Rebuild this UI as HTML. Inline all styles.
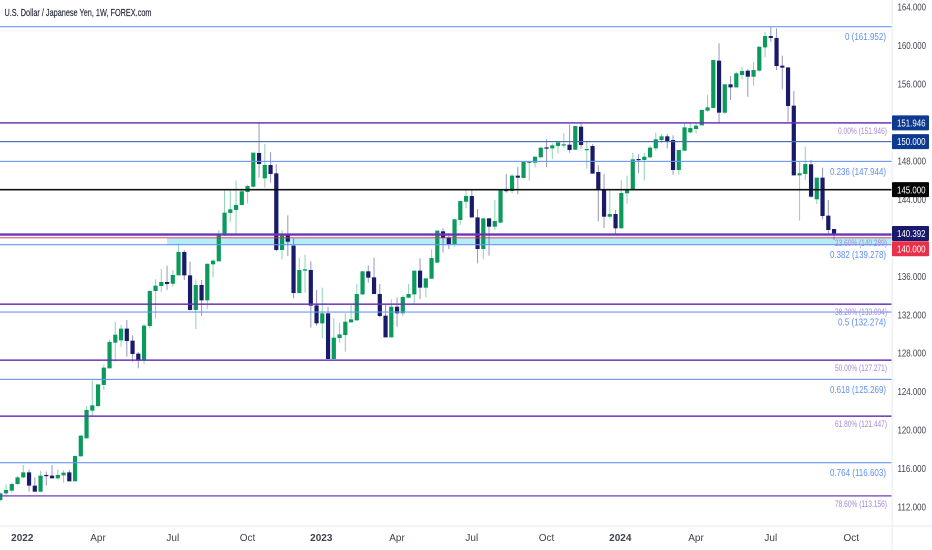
<!DOCTYPE html>
<html lang="en">
<head>
<meta charset="utf-8">
<title>USD/JPY weekly chart</title>
<style>
html,body{margin:0;padding:0;background:#fff;width:932px;height:550px;overflow:hidden}
svg{display:block;font-family:"Liberation Sans",sans-serif}
</style>
</head>
<body>
<svg id="chart" xmlns="http://www.w3.org/2000/svg" width="932" height="550" viewBox="0 0 932 550">
  <rect x="0" y="0" width="932" height="550" fill="#ffffff"/>
  <g id="zone"></g>
  <g id="candles"></g>
  <g id="levels"></g>
  <rect x="0" y="525.5" width="932" height="1" fill="#e6e8ef"/>
  <rect x="891.5" y="0" width="1.5" height="550" fill="#eef0f6"/>
  <g id="yticks"></g>
  <g id="xticks"></g>
  <g id="badges"></g>
  <text x="4.5" y="16" font-size="10.5" fill="#1d2230" stroke="#1d2230" stroke-width="0.15" textLength="147" lengthAdjust="spacingAndGlyphs">U.S. Dollar / Japanese Yen, 1W, FOREX.com</text>
</svg>
<script>
var open = [
112.72,113.42,113.70,114.39,115.08,115.60,114.22,113.59,115.33,115.26,
114.98,115.29,115.60,114.67,117.27,119.14,122.02,122.50,124.69,126.42,
129.09,129.33,130.55,129.30,127.95,127.22,130.82,134.46,134.98,135.40,
135.22,136.09,138.52,136.09,132.49,135.09,133.49,137.24,137.55,140.25,
142.58,142.89,143.41,144.76,145.31,148.82,146.18,147.57,146.70,138.73,
140.39,139.18,134.25,136.58,136.65,132.97,131.10,132.14,127.39,129.57,
129.88,131.20,131.41,134.11,136.51,135.88,134.15,131.90,129.64,132.83,
132.14,133.77,134.11,136.58,134.81,135.74,137.41,140.67,140.04,139.35,
141.85,143.75,144.34,142.12,138.83,142.02,141.15,141.57,144.97,144.86,
146.46,146.22,147.81,147.81,148.37,149.40,149.30,149.54,149.61,149.68,
149.16,151.55,149.16,149.54,146.84,144.97,142.19,142.47,140.98,144.62,
144.93,148.19,148.09,148.37,149.30,150.17,150.55,150.17,147.05,149.06,
150.96,151.31,151.69,153.22,153.50,158.42,153.01,155.96,155.64,156.93,
157.38,156.75,157.38,159.80,160.98,160.78,157.90,157.72,153.74,146.49,
146.63,147.64,144.00,146.25,142.30,140.91];
var close = [
113.42,113.77,114.39,115.08,115.60,114.22,113.59,115.26,115.22,114.98,
115.33,115.57,114.67,117.30,119.42,122.09,122.57,124.75,126.49,129.16,
129.92,130.55,129.26,127.91,127.22,130.86,134.46,135.02,135.40,135.19,
136.13,138.52,136.09,132.49,135.09,133.49,137.30,137.62,140.29,142.61,
142.96,143.41,144.83,145.38,148.85,147.67,147.57,146.63,138.73,140.39,
139.59,134.25,136.65,136.72,132.94,131.10,132.14,127.39,129.61,129.95,
131.27,131.51,134.15,136.51,135.85,134.15,131.86,129.64,132.83,132.14,
133.84,134.15,136.58,134.81,135.78,137.89,140.74,139.97,139.35,141.92,
143.82,144.34,142.12,138.83,142.02,141.15,141.74,144.97,144.86,146.46,
146.25,147.88,147.91,148.43,149.37,149.27,149.61,149.92,149.72,149.13,
151.62,149.65,149.23,146.67,144.93,142.19,142.47,140.98,144.66,145.00,
148.16,148.09,148.43,149.37,150.24,150.55,150.06,147.05,149.13,151.48,
151.41,151.66,153.29,153.56,158.49,153.01,155.96,155.64,157.10,157.34,
156.75,157.45,159.87,160.98,160.78,157.86,157.69,153.70,146.49,146.70,
147.67,144.27,146.25,142.26,140.81,140.39];
var high = [
113.50,114.35,114.53,115.22,116.36,115.91,115.08,115.74,115.67,116.36,
115.91,115.84,115.84,117.37,119.49,122.50,125.14,124.75,126.77,129.44,
131.27,130.93,131.45,129.85,128.12,131.03,134.57,135.68,136.75,137.10,
136.61,139.42,138.73,137.51,135.68,135.61,137.30,137.75,140.81,144.97,
144.97,145.94,145.04,145.52,148.85,151.97,149.75,148.89,147.64,140.81,
142.33,139.94,137.93,138.24,137.55,134.57,134.81,132.83,131.62,131.17,
132.14,133.01,135.19,136.51,137.13,137.93,135.19,133.11,133.60,133.77,
134.01,135.19,136.58,137.86,135.78,138.80,140.74,140.98,140.46,141.92,
143.82,144.97,144.97,142.99,142.02,142.02,143.93,145.04,146.63,146.63,
147.39,147.91,147.91,148.43,149.47,150.24,149.82,149.92,150.86,151.76,
151.62,151.97,149.96,149.72,147.53,146.63,144.97,142.89,146.00,146.46,
148.85,148.71,148.85,149.61,150.93,150.79,150.79,150.65,149.13,151.90,
151.90,151.90,153.36,154.85,158.49,160.22,155.96,156.82,157.27,157.79,
157.52,158.31,159.87,161.40,161.95,161.78,158.94,157.72,155.26,147.91,
149.47,148.09,146.25,147.29,143.93,140.91];
var low = [
112.60,113.25,113.49,114.29,114.98,113.59,113.59,113.59,114.22,114.98,
114.87,114.53,114.63,114.67,117.23,119.14,121.39,122.36,124.17,126.42,
127.11,128.67,127.63,127.11,126.42,126.87,130.58,131.58,134.36,134.57,
134.91,136.09,135.61,132.42,130.51,131.86,132.59,135.88,137.55,140.18,
141.67,140.39,143.41,143.58,145.24,146.25,145.21,145.73,138.59,137.75,
138.10,133.70,134.25,134.29,130.65,130.86,129.57,127.39,127.39,129.09,
128.15,131.20,131.38,134.05,135.33,134.15,131.72,129.64,129.64,130.75,
131.86,133.70,133.18,133.60,133.80,135.74,137.41,138.48,138.83,139.07,
141.33,143.06,142.05,137.34,137.79,138.14,140.81,141.57,144.69,144.62,
144.55,146.15,145.94,147.32,148.26,147.36,148.19,148.78,149.37,148.85,
149.13,149.27,147.19,146.67,141.71,141.01,141.99,140.36,140.98,143.55,
144.93,146.73,145.94,148.26,149.06,149.82,149.30,146.56,146.56,149.06,
150.86,150.86,151.69,153.11,153.50,151.90,152.87,154.33,155.61,156.48,
154.67,155.82,157.27,158.77,160.39,157.45,155.44,152.07,146.49,141.78,
146.00,144.17,143.51,141.91,140.46,139.77];
var priceTicks = [164,160,156,148,144,136,132,128,124,120,116,112];
var timeTickLabels = ["2022","Apr","Jul","Oct","2023","Apr","Jul","Oct","2024","Apr","Jul","Oct"];
var timeTickWeeks = [4,17,30,43,56,69,82,95,108,121,134,148];
var blueFibPrices = [161.952,147.944,139.278,132.274,125.269,116.603];
var blueFibRatios = ["0","0.236","0.382","0.5","0.618","0.764"];
var purpleFibPrices = [151.946,140.289,133.094,127.271,121.447,113.156];
var purpleFibRatios = ["0.00%","23.60%","38.20%","50.00%","61.80%","78.60%"];
var badgePrices = [151.946,150,145,140.392,140];
var badgeLabels = ["151.946","150.000","145.000","140.392","140.000"];
var zoneTop = 140;
var zoneBottom = 139.278;

var NS = "http://www.w3.org/2000/svg";
function yScale(p){ return 7 + (164 - p) * 9.615; }
function xScale(i){ return i * 5.75 + 0.3; }
function mk(tag, attrs, parent){
  var el = document.createElementNS(NS, tag);
  for (var k in attrs) el.setAttribute(k, attrs[k]);
  parent.appendChild(el);
  return el;
}
var GREEN = "#0a9a5c", NAVY = "#1a1a6b";

/* support zone */
var zoneG = document.getElementById("zone");
var zoneRect = mk("rect", {x:167, y:yScale(zoneTop), width:725, height:yScale(zoneBottom)-yScale(zoneTop), fill:"#aeeaf5", opacity:0.9}, zoneG);



/* candles */
var cG = document.getElementById("candles");
for (var i = 0; i < open.length; i++) {
  var up = close[i] >= open[i];
  var col = up ? GREEN : NAVY;
  var x = xScale(i);
  var g = mk("g", {}, cG);
  
  
  mk("rect", {x:x-0.55, y:yScale(high[i]), width:1.1, height:Math.max(0.5, yScale(low[i])-yScale(high[i])), fill:col, opacity:0.42}, g);
  var t = yScale(Math.max(open[i], close[i]));
  var b = yScale(Math.min(open[i], close[i]));
  mk("rect", {x:x-2.1, y:t, width:4.2, height:Math.max(1.2, b-t), fill:col}, g);
}

/* levels */
var lG = document.getElementById("levels");
function hline(p, color, w, name, op){
  var l = mk("rect", {x:0, y:yScale(p)-w/2, width:892, height:w, fill:color, opacity:op||1}, lG);
  
  
}
function label(txt, xEnd, y, color, size, len, name){
  var t = mk("text", {x:xEnd-len, y:y, fill:color, "font-size":size, textLength:len, lengthAdjust:"spacingAndGlyphs"}, lG);
  t.textContent = txt;
  
  
}
hline(150, "#4c6fb8", 1.2, "level-150-line");
hline(145, "#111111", 1.6, "level-145-line");
hline(140, "#d9364f", 1.2, "level-140-line", 0.75);
hline(140.392, "#6a3ab8", 1.3, "level-140-392-line");
blueFibPrices.forEach(function(p, idx){
  hline(p, "#6a94f2", 1.1, "fib-blue-line");
  var wide = blueFibRatios[idx].length;
  var len = wide === 1 ? 41 : (wide === 3 ? 48 : 56);
  var txt = blueFibRatios[idx] + " (" + p.toFixed(3) + ")";
  label(txt, 886, yScale(p) + 13.5, "#5b8ff0", 10.5, len, "fib-blue-label");
});
purpleFibPrices.forEach(function(p, idx){
  hline(p, "#6a35b8", 1.5, "fib-purple-line", idx === 5 ? 0.8 : 1);
  var pct = purpleFibRatios[idx];
  var len = pct.length === 5 ? 49 : 52;
  label(pct + " (" + p.toFixed(3) + ")", 887, yScale(p) + 11, "#a488d8", 8.8, len, "fib-purple-label");
});

/* price axis */
var yG = document.getElementById("yticks");
priceTicks.forEach(function(p){
  var t = mk("text", {x:897.5, y:yScale(p)+3.6, fill:"#3f4250", "font-size":10, textLength:28.5, lengthAdjust:"spacingAndGlyphs"}, yG);
  t.textContent = p.toFixed(3);
  
  
});

/* time axis */
var xG = document.getElementById("xticks");
timeTickLabels.forEach(function(s, idx){
  var isYear = s.length === 4;
  var t = mk("text", {x:xScale(timeTickWeeks[idx]) - (isYear ? 1 : 0), y:541, fill:"#3f4250", "font-size":10, "text-anchor":"middle", "font-weight":isYear?"bold":"normal"}, xG);
  t.textContent = s;
  
  
});

/* badges */
var badgeColors = ["#0d3a8e","#0d3a8e","#050505","#1a1a6b","#e8304a"];
var badgeOffsets = [0,0,0,0,11];
var bG = document.getElementById("badges");
badgePrices.forEach(function(p, idx){
  var cy = yScale(p) + badgeOffsets[idx];
  if (idx === 3) cy = yScale(p) - 0.5;
  var r = mk("rect", {x:892, y:cy-7.5, width:37, height:15, rx:1, fill:badgeColors[idx]}, bG);
  
  
  var t = mk("text", {x:897, y:cy+3.6, fill:"#ffffff", "font-size":10, textLength:28.5, lengthAdjust:"spacingAndGlyphs"}, bG);
  t.textContent = badgeLabels[idx];
  
  
});
</script>
</body>
</html>
